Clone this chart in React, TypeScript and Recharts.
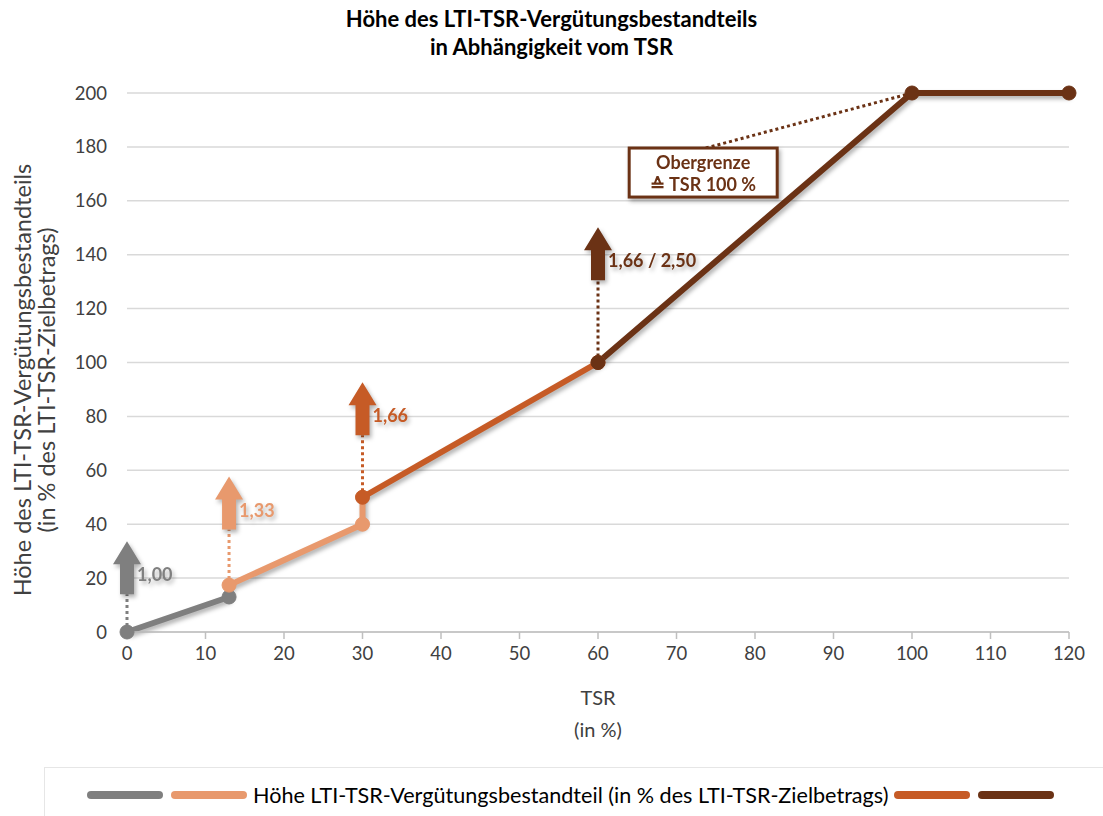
import { LineChart, Line, XAxis, YAxis, CartesianGrid, ReferenceLine, ReferenceDot } from "recharts"

const GRAY = "#7f7f7f"
const LIGHT = "#e8996d"
const ORANGE = "#c65b26"
const BROWN = "#6b3215"
const FONT = "Lato, 'Open Sans', sans-serif"

const TSR_TICKS = [0, 10, 20, 30, 40, 50, 60, 70, 80, 90, 100, 110, 120]
const VALUE_TICKS = [0, 20, 40, 60, 80, 100, 120, 140, 160, 180, 200]

// one series per slope band
const grayPts = [
  { tsr: 0, v: 0 },
  { tsr: 13, v: 13 },
]
const lightPts = [
  { tsr: 13, v: 13 },
  { tsr: 13, v: 17.4 },
  { tsr: 30, v: 40 },
  { tsr: 30, v: 50 },
]
const orangePts = [
  { tsr: 30, v: 50 },
  { tsr: 60, v: 100 },
]
const brownPts = [
  { tsr: 60, v: 100 },
  { tsr: 100, v: 200 },
  { tsr: 120, v: 200 },
]

// slope arrows: dotted stem from the point up to the arrow base
const ARROWS = [
  { tsr: 0, from: 0, to: 14, label: "1,00", color: GRAY },
  { tsr: 13, from: 17.4, to: 38, label: "1,33", color: LIGHT },
  { tsr: 30, from: 50, to: 73, label: "1,66", color: ORANGE },
  { tsr: 60, from: 100, to: 130.5, label: "1,66 / 2,50", color: BROWN },
]

const CAP_BOX = { tsr: 73.4, v: 170.3 }
const CAP_LINE = [
  { x: 73, y: 179 },
  { x: 100, y: 200 },
]

function dotExcept(color: string, hidden: number[]) {
  return (p: any) =>
    hidden.includes(p.index) ? (
      <g key={p.index} />
    ) : (
      <circle key={p.index} cx={p.cx} cy={p.cy} r={7} fill={color} stroke={color} />
    )
}

function Arrow({ cx, cy, color, label }: any) {
  const bw = 7
  const hw = 14
  const path = `M${cx - bw},${cy} L${cx - bw},${cy - 30} L${cx - hw},${cy - 30} L${cx},${cy - 53} L${cx + hw},${cy - 30} L${cx + bw},${cy - 30} L${cx + bw},${cy} Z`
  return (
    <g className="shadowed">
      <path d={path} fill={color} />
      <text x={cx + 10} y={cy - 13} fill={color} fontFamily={FONT} fontWeight={700} fontSize={18}>
        {label}
      </text>
    </g>
  )
}

function CapBox({ cx, cy }: any) {
  return (
    <g className="shadowed">
      <rect x={cx - 74} y={cy - 25} width={148} height={49} fill="#fff" stroke={BROWN} strokeWidth={3} />
      <text x={cx} y={cy - 4} textAnchor="middle" fill={BROWN} fontFamily={FONT} fontWeight={700} fontSize={18}>
        Obergrenze
      </text>
      <text x={cx} y={cy + 18} textAnchor="middle" fill={BROWN} fontFamily={FONT} fontWeight={700} fontSize={18}>
        ≙ TSR 100 %
      </text>
    </g>
  )
}

function LegendSwatch({ color }: { color: string }) {
  return <span style={{ display: "inline-block", width: 76, height: 8, borderRadius: 4, background: color, margin: "0 4px" }} />
}

export default function App() {
  return (
    <div style={{ position: "absolute", left: 0, top: 0, width: 1103, height: 816, background: "#fff", fontFamily: FONT, overflow: "hidden" }}>
      <style>{`.recharts-line-curve, .shadowed { filter: drop-shadow(2px 3px 2px rgba(0,0,0,0.3)); }`}</style>
      <div style={{ position: "absolute", left: 0, width: 1103, top: 5, textAlign: "center", fontWeight: 700, fontSize: 22, lineHeight: "28px", color: "#000" }}>
        Höhe des LTI-TSR-Vergütungsbestandteils
        <br />
        in Abhängigkeit vom TSR
      </div>
      <LineChart width={1103} height={816} margin={{ top: 93, right: 34, left: 0, bottom: 154 }}>
        <CartesianGrid vertical={false} stroke="#d9d9d9" strokeWidth={1.5} />
        <XAxis
          type="number"
          dataKey="tsr"
          domain={[0, 120]}
          ticks={TSR_TICKS}
          interval={0}
          height={30}
          stroke="#bfbfbf"
          strokeWidth={1.5}
          tickSize={7}
          tickMargin={8}
          tick={{ fill: "#404040", fontSize: 18.5, fontFamily: FONT }}
        />
        <YAxis
          type="number"
          domain={[0, 200]}
          ticks={VALUE_TICKS}
          interval={0}
          width={127}
          axisLine={false}
          tickLine={false}
          tickMargin={14}
          tick={{ fill: "#404040", fontSize: 18.5, fontFamily: FONT }}
        />
        {ARROWS.map((a) => (
          <ReferenceLine
            key={"s" + a.tsr}
            segment={[
              { x: a.tsr, y: a.from },
              { x: a.tsr, y: a.to },
            ]}
            stroke={a.color}
            strokeWidth={3}
            strokeDasharray="3 3"
          />
        ))}
        <ReferenceLine segment={CAP_LINE} stroke={BROWN} strokeWidth={3} strokeDasharray="3 3" />
        <Line data={grayPts} dataKey="v" stroke={GRAY} strokeWidth={6} dot={dotExcept(GRAY, [])} isAnimationActive={false} />
        <Line data={lightPts} dataKey="v" stroke={LIGHT} strokeWidth={6} dot={dotExcept(LIGHT, [0, 3])} isAnimationActive={false} />
        <Line data={orangePts} dataKey="v" stroke={ORANGE} strokeWidth={6} dot={dotExcept(ORANGE, [])} isAnimationActive={false} />
        <Line data={brownPts} dataKey="v" stroke={BROWN} strokeWidth={6} dot={dotExcept(BROWN, [])} isAnimationActive={false} />
        {ARROWS.map((a) => (
          <ReferenceDot
            key={"a" + a.tsr}
            x={a.tsr}
            y={a.to}
            r={0}
            shape={(p: any) => <Arrow cx={p.cx} cy={p.cy} color={a.color} label={a.label} />}
          />
        ))}
        <ReferenceDot x={CAP_BOX.tsr} y={CAP_BOX.v} r={0} shape={(p: any) => <CapBox cx={p.cx} cy={p.cy} />} />
      </LineChart>
      <div style={{ position: "absolute", left: 0, width: 1196, top: 681, textAlign: "center", fontSize: 20, lineHeight: "32px", color: "#404040" }}>
        TSR
        <br />
        (in %)
      </div>
      <div
        style={{
          position: "absolute",
          left: 42 - 300,
          top: 380 - 32,
          width: 600,
          height: 64,
          transform: "rotate(-90deg)",
          textAlign: "center",
          fontSize: 23.5,
          lineHeight: "24px",
          color: "#404040",
          whiteSpace: "nowrap",
        }}
      >
        Höhe des LTI-TSR-Vergütungsbestandteils
        <br />
        (in % des LTI-TSR-Zielbetrags)
      </div>
      <div style={{ position: "absolute", left: 44, top: 767, width: 1080, height: 60, border: "1px solid #e6e6e6" }} />
      <div style={{ position: "absolute", left: 83, top: 782, display: "flex", alignItems: "center", fontSize: 21.6, color: "#000", whiteSpace: "nowrap" }}>
        <LegendSwatch color={GRAY} />
        <LegendSwatch color={LIGHT} />
        <span style={{ margin: "0 2px" }}>Höhe LTI-TSR-Vergütungsbestandteil (in % des LTI-TSR-Zielbetrags)</span>
        <LegendSwatch color={ORANGE} />
        <LegendSwatch color={BROWN} />
      </div>
    </div>
  )
}
